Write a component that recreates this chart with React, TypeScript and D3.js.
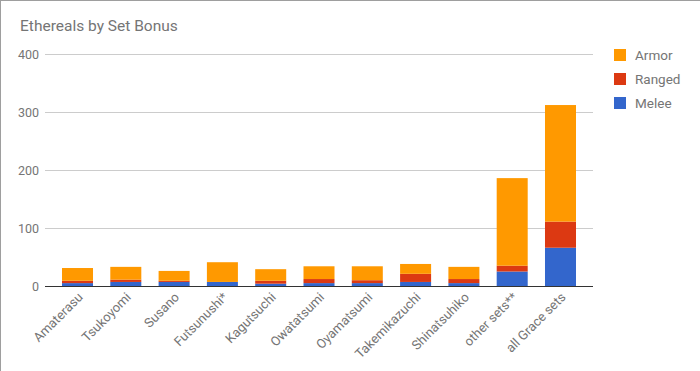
import { useEffect, useRef } from 'react'
import * as d3 from 'd3'

const categories = [
  'Amaterasu', 'Tsukoyomi', 'Susano', 'Futsunushi*', 'Kagutsuchi', 'Owatatsumi',
  'Oyamatsumi', 'Takemikazuchi', 'Shinatsuhiko', 'other sets**', 'all Grace sets',
]
const melee = [5, 7, 7, 7, 4, 5, 5, 7, 5, 25, 66]
const ranged = [4, 4, 2, 0, 5, 7, 5, 14, 7, 10, 45]
const armor = [22, 22, 17, 34, 20, 22, 24, 17, 21, 151, 201]
const yTicks = [0, 100, 200, 300, 400]

const seriesNames = ['Melee', 'Ranged', 'Armor']
const seriesColors = ['#3366cc', '#dc3912', '#ff9900']
const legendOrder = ['Armor', 'Ranged', 'Melee']

const FONT = 'Roboto, Arial, sans-serif'

export default function App() {
  const ref = useRef<SVGSVGElement>(null)

  useEffect(() => {
    if (!ref.current) return
    const svg = d3.select(ref.current)
    svg.selectAll('*').remove()

    const width = 700
    const height = 371

    // frame edges (only top and left visible)
    svg.append('line').attr('x1', 0.5).attr('x2', 0.5).attr('y1', 0).attr('y2', height)
      .attr('stroke', '#9e9e9e')
    svg.append('line').attr('x1', 0).attr('x2', width).attr('y1', 0.5).attr('y2', 0.5)
      .attr('stroke', '#9e9e9e')

    svg.append('text')
      .attr('x', 20).attr('y', 31)
      .attr('font-family', FONT).attr('font-size', 15.5)
      .attr('fill', '#757575')
      .text('Ethereals by Set Bonus')

    const x = d3.scaleBand<string>()
      .domain(categories)
      .range([45, 593])
      .paddingInner(0.358)
      .paddingOuter(0.352)

    const y = d3.scaleLinear().domain([0, 400]).range([286, 54])

    // gridlines
    svg.append('g').selectAll('line')
      .data(yTicks.filter(t => t !== 0))
      .enter().append('line')
      .attr('x1', 45).attr('x2', 593)
      .attr('y1', d => Math.round(y(d)) + 0.5).attr('y2', d => Math.round(y(d)) + 0.5)
      .attr('stroke', '#cccccc')

    svg.append('g').selectAll('text')
      .data(yTicks)
      .enter().append('text')
      .attr('x', 39).attr('y', d => y(d) + 4.5)
      .attr('text-anchor', 'end')
      .attr('font-family', FONT).attr('font-size', 12.5)
      .attr('fill', '#757575')
      .text(d => d)

    const table = categories.map((c, i) => ({ cat: c, Melee: melee[i], Ranged: ranged[i], Armor: armor[i] }))
    const stacked = d3.stack<any>().keys(seriesNames)(table)

    stacked.forEach((layer, si) => {
      svg.append('g').selectAll('rect')
        .data(layer)
        .enter().append('rect')
        .attr('x', d => x(d.data.cat)!)
        .attr('width', x.bandwidth())
        .attr('y', d => y(d[1]))
        .attr('height', d => Math.max(0, y(d[0]) - y(d[1])))
        .attr('fill', seriesColors[si])
    })

    // baseline
    svg.append('line')
      .attr('x1', 45).attr('x2', 593)
      .attr('y1', 286.5).attr('y2', 286.5)
      .attr('stroke', '#333333')

    // x labels
    svg.append('g').selectAll('text')
      .data(categories)
      .enter().append('text')
      .attr('transform', d => `translate(${x(d)! + x.bandwidth() / 2 + 6},${298}) rotate(-45)`)
      .attr('text-anchor', 'end')
      .attr('font-family', FONT).attr('font-size', 13)
      .attr('fill', '#757575')
      .text(d => d)

    // legend
    const legend = svg.append('g').selectAll('g')
      .data(legendOrder)
      .enter().append('g')
      .attr('transform', (d, i) => `translate(614,${49 + i * 24})`)
    legend.append('rect')
      .attr('width', 12).attr('height', 12)
      .attr('fill', d => seriesColors[seriesNames.indexOf(d)])
    legend.append('text')
      .attr('x', 21).attr('y', 11)
      .attr('font-family', FONT).attr('font-size', 13.5)
      .attr('fill', '#757575')
      .text(d => d)
  }, [])

  return (
    <svg ref={ref} width={700} height={371}
      style={{ position: 'absolute', left: 0, top: 0, background: '#fff' }} />
  )
}
